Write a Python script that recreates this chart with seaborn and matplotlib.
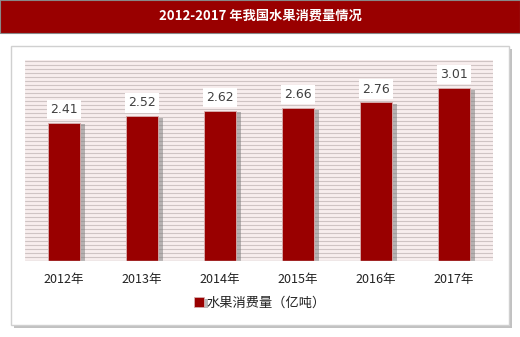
import matplotlib
matplotlib.use("Agg")
import matplotlib.pyplot as plt
import matplotlib.patheffects as pe
from matplotlib.patches import Rectangle
import seaborn as sns
import pandas as pd
import numpy as np

years = ["2012年", "2013年", "2014年", "2015年", "2016年", "2017年"]
values = [2.41, 2.52, 2.62, 2.66, 2.76, 3.01]
series_name = "水果消费量（亿吨）"
title = "2012-2017 年我国水果消费量情况"

sns.set_theme(style="white")
plt.rcParams['font.family'] = ['Noto Sans CJK SC', 'DejaVu Sans']

W, H = 520, 337
fig = plt.figure(figsize=(W / 100, H / 100), dpi=100)
fig.patch.set_facecolor("white")

def fx(px):
    return px / W

def fy(py):
    return 1 - py / H

# title bar
fig.patches.append(Rectangle((0, fy(33)), 1, 33 / H, transform=fig.transFigure,
                             facecolor="#990000", edgecolor="#888888", lw=0.8, zorder=-2))
fig.text(0.5, fy(16), title, color="white", fontsize=9.5, fontweight="bold",
         ha="center", va="center")

# inner panel with shadow
panel = Rectangle((fx(11), fy(325)), fx(498), (325 - 46) / H, transform=fig.transFigure,
                  facecolor="white", edgecolor="#d0d0d0", lw=1.0, zorder=-2,
                  path_effects=[pe.SimplePatchShadow(offset=(2, -2), shadow_rgbFace="#999999", alpha=0.6),
                                pe.Normal()])
fig.patches.append(panel)

ax = fig.add_axes([fx(25), fy(261), fx(493 - 25), (261 - 60) / H])
ax.set_zorder(2)
ax.set_facecolor("#f8eeee")

df = pd.DataFrame({"year": years, "value": values})
sns.barplot(data=df, x="year", y="value", color="#990000", width=0.42,
            saturation=1, ax=ax, label=series_name, zorder=3)

for p in ax.patches:
    p.set_edgecolor("#d8b0b0")
    p.set_linewidth(0.6)
    p.set_path_effects([pe.SimplePatchShadow(offset=(3, -1), shadow_rgbFace="#777777", alpha=0.5),
                        pe.Normal()])

ax.set_ylim(0, 3.5)
ax.set_xlim(-0.5, 5.5)

# stripe pattern
for yv in np.arange(0.07, 3.5, 0.0695):
    ax.axhline(yv, color="#cfc4c4", lw=0.8, zorder=1)
ax.axhline(0, color="#cccccc", lw=1, zorder=4)

for i, v in enumerate(values):
    ax.text(i, v + 0.12, f"{v:.2f}", ha="center", va="bottom", fontsize=9,
            color="#404040", family=["DejaVu Sans"],
            bbox=dict(boxstyle="square,pad=0.25", facecolor="white", edgecolor="none"), zorder=5)

ax.set_xlabel("")
ax.set_ylabel("")
ax.set_yticks([])
ax.tick_params(axis="x", length=0, pad=9, labelsize=9, colors="#222222")
for s in ax.spines.values():
    s.set_visible(False)

leg = ax.legend(loc="center", bbox_to_anchor=(fx(260), fy(303)),
                bbox_transform=fig.transFigure, frameon=False, fontsize=9.5,
                handlelength=0.7, handleheight=0.7, handletextpad=0.2)
for t in leg.get_texts():
    t.set_color("#222222")

fig.savefig("out.png", dpi=100)
